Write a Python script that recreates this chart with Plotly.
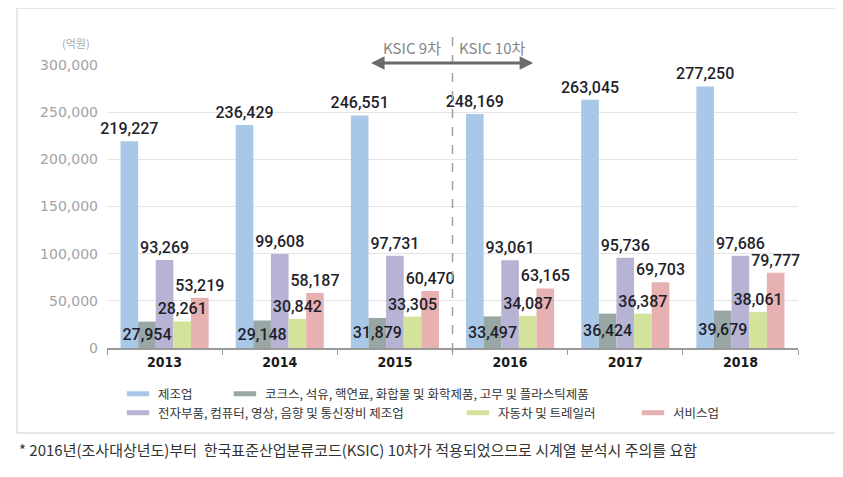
import plotly.graph_objects as go

years = ["2013", "2014", "2015", "2016", "2017", "2018"]
manufacturing = [219227, 236429, 246551, 248169, 263045, 277250]
chemicals = [27954, 29148, 31879, 33497, 36424, 39679]
electronics = [93269, 99608, 97731, 93061, 95736, 97686]
automobiles = [28261, 30842, 33305, 34087, 36387, 38061]
services = [53219, 58187, 60470, 63165, 69703, 79777]

series_names = [
    "제조업",
    "코크스, 석유, 핵연료, 화합물 및 화학제품, 고무 및 플라스틱제품",
    "전자부품, 컴퓨터, 영상, 음향 및 통신장비 제조업",
    "자동차 및 트레일러",
    "서비스업",
]
series_values = [manufacturing, chemicals, electronics, automobiles, services]
colors = ["#a9c7e6", "#98a7a5", "#b7b3d4", "#d4e39b", "#e7b1b1"]
text_positions = ["outside", "inside", "outside", "outside", "outside"]

ytick_vals = [0, 50000, 100000, 150000, 200000, 250000, 300000]
ytick_text = ["0", "50,000", "100,000", "150,000", "200,000", "250,000", "300,000"]

# legend placement (paper x, paper y) for each entry
legend_ids = ["legend", "legend2", "legend3", "legend4", "legend5"]
legend_x = [0.0160, 0.1707, 0.0160, 0.5079, 0.7612]
legend_y = [-0.163, -0.163, -0.230, -0.230, -0.230]

KR = "Noto Sans CJK KR"
NUM = "Roboto"

fig = go.Figure()

# bars
for i, (name, vals, col) in enumerate(zip(series_names, series_values, colors)):
    fig.add_trace(go.Bar(
        x=years, y=vals, name=name, offsetgroup=f"s{i}",
        marker=dict(color=col, line=dict(width=0)),
        showlegend=False, hoverinfo="skip",
    ))

# value labels drawn on top of all bars (transparent overlay bars)
for i, (name, vals, tp) in enumerate(zip(series_names, series_values, text_positions)):
    fig.add_trace(go.Bar(
        x=years, y=vals, name=name, offsetgroup=f"s{i}",
        marker=dict(color="rgba(0,0,0,0)", line=dict(width=0)),
        text=[f"{v:,}" for v in vals], textposition=tp, textangle=0,
        insidetextanchor="middle", constraintext="none", cliponaxis=False,
        textfont=dict(family=NUM, size=16, color="#1f1f2b", weight=500),
        showlegend=False, hoverinfo="skip",
    ))

# legend entries
for name, col, lg in zip(series_names, colors, legend_ids):
    fig.add_trace(go.Scatter(
        x=[None], y=[None], mode="markers", name=name, legend=lg,
        marker=dict(symbol="line-ew", size=16, color=col, line=dict(width=5, color=col)),
        hoverinfo="skip",
    ))

legend_layout = {}
for lg, lx, ly in zip(legend_ids, legend_x, legend_y):
    legend_layout[lg] = dict(
        orientation="h", x=lx, xanchor="left", y=ly, yanchor="middle",
        bgcolor="rgba(0,0,0,0)", font=dict(family=KR, size=12.5, color="#333"),
    )

fig.update_layout(
    width=835, height=469, autosize=False,
    margin=dict(l=99, r=45, t=57, b=129),
    paper_bgcolor="white", plot_bgcolor="white",
    barmode="group", bargap=0.235, bargroupgap=0,
    font=dict(family=KR, color="#333"),
    xaxis=dict(
        type="category", showgrid=False, showline=True, linecolor="#9a9a9a", linewidth=2,
        ticks="outside", tickson="boundaries", ticklen=5, tickcolor="#9a9a9a",
        tickfont=dict(family="DejaVu Sans Condensed", size=14, color="#1a1a1a", weight="bold"),
        zeroline=False,
    ),
    yaxis=dict(
        range=[0, 300000], tickvals=ytick_vals, ticktext=ytick_text,
        showgrid=True, gridcolor="#e4e4e4", gridwidth=1, zeroline=False,
        showline=False, ticks="", ticklabelstandoff=8,
        tickfont=dict(family="DejaVu Sans", size=14, color="#a3a3a3"),
    ),
    **legend_layout,
)

# border box
fig.add_shape(type="rect", xref="paper", yref="paper",
              x0=-0.1302, x1=1.055, y0=-0.3004, y1=1.2014,
              line=dict(color="#cfcfcf", width=1), fillcolor="rgba(0,0,0,0)", layer="below")

# KSIC boundary dashed line (between 2015 and 2016)
fig.add_shape(type="line", xref="paper", yref="paper", x0=0.5, x1=0.5, y0=-0.014, y1=1.099,
              line=dict(color="#a0a0a0", width=1.5, dash="dash"))

# double arrow
fig.add_annotation(x=0.6167, y=1.0070, ax=0.38, ay=1.0070,
                   xref="x domain", yref="y domain", axref="x domain", ayref="y domain",
                   text="", showarrow=True,
                   arrowside="end+start", arrowhead=2, startarrowhead=2,
                   arrowsize=0.9, startarrowsize=0.9, arrowwidth=3, arrowcolor="#6b6b6b")

fig.add_annotation(x=0.5, y=1.0636, xref="paper", yref="paper", text="KSIC 9차",
                   xanchor="right", yanchor="middle", xshift=-10, showarrow=False,
                   font=dict(family=KR, size=15, color="#858585"))
fig.add_annotation(x=0.5, y=1.0636, xref="paper", yref="paper", text="KSIC 10차",
                   xanchor="left", yanchor="middle", xshift=4, showarrow=False,
                   font=dict(family=KR, size=15, color="#858585"))

# unit label
fig.add_annotation(x=-0.0217, y=1.0777, xref="paper", yref="paper", text="(억원)",
                   xanchor="right", yanchor="middle", showarrow=False,
                   font=dict(family=KR, size=11, color="#a8a8a8"))

# footnote
fig.add_annotation(x=-0.1302, y=-0.3604, xref="paper", yref="paper",
                   text="* 2016년(조사대상년도)부터\u00a0 한국표준산업분류코드(KSIC) 10차가 적용되었으므로 시계열 분석시 주의를 요함",
                   xanchor="left", yanchor="middle", showarrow=False,
                   font=dict(family=KR, size=15, color="#333"))

fig.write_html("out.html")
